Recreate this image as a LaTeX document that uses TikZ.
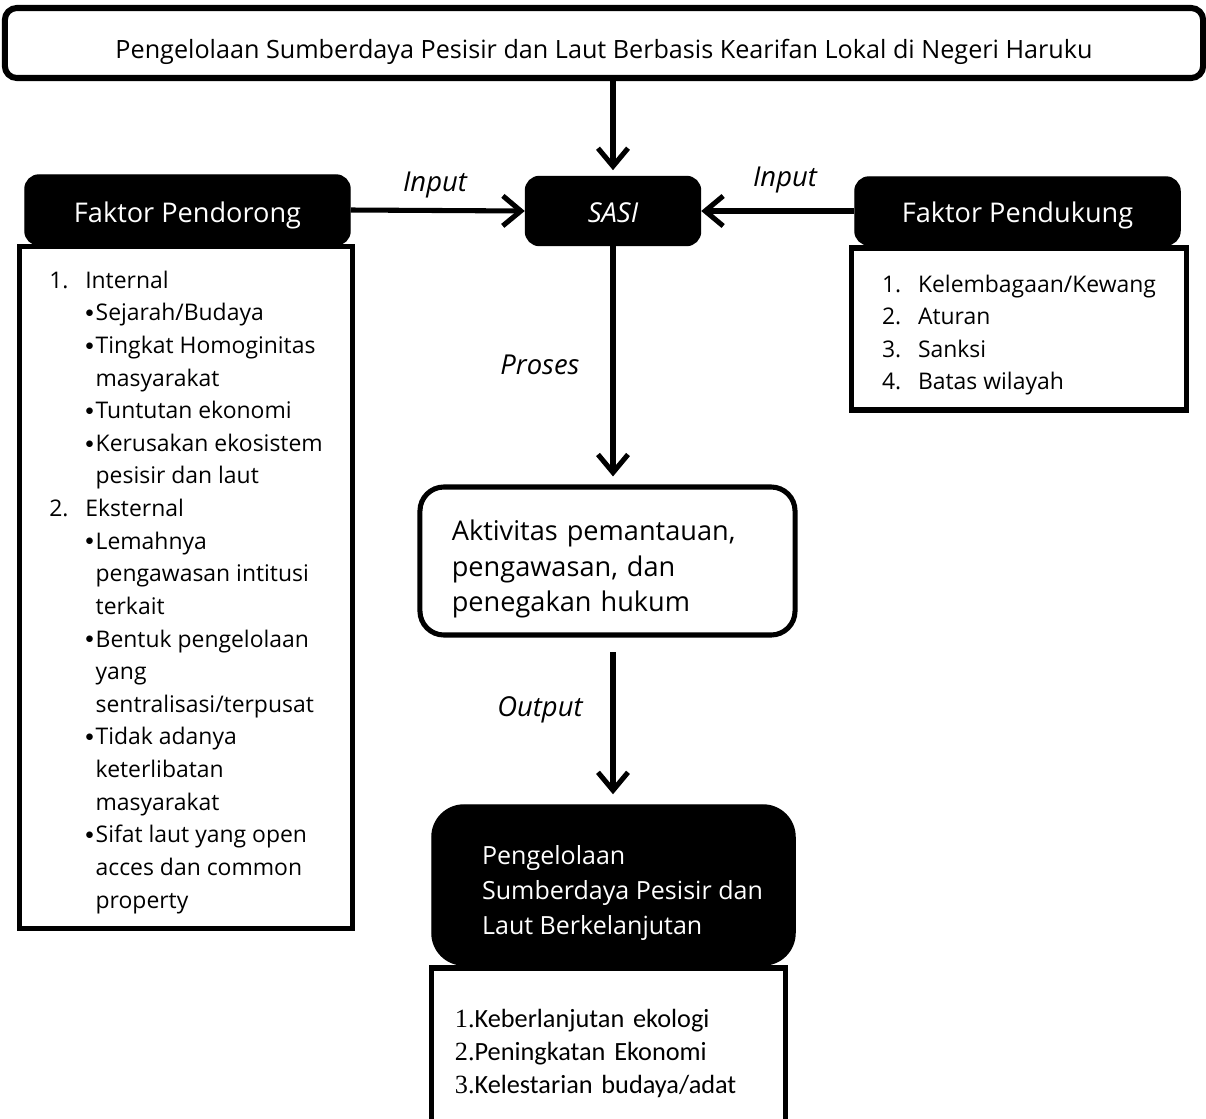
\documentclass[tikz,border=0pt]{standalone}
\usepackage{fontspec}
\setmainfont{Open Sans}
\newfontfamily\numfont{Liberation Serif}
\newfontfamily\narrowfont{Carlito}
\usetikzlibrary{arrows.meta,positioning}

% list helpers
\newcommand{\numitem}[2]{\makebox[25.6pt][l]{#1}#2}
\newcommand{\bulitem}[1]{\hspace*{25.6pt}\makebox[7.4pt][l]{\raisebox{2.3pt}{\scalebox{0.7}{$\bullet$}}}#1}
\newcommand{\bulcont}[1]{\hspace*{33pt}#1}
\newcommand{\lowerby}[1]{\rule{0pt}{#1}}
\newcommand{\indentline}{\hspace*{12.8pt}}

\begin{document}
\begin{tikzpicture}[
    x=0.025cm, y=-0.025cm,
    blackbox/.style={rectangle, rounded corners=0.35cm, draw=black, fill=black, text=white, line width=1pt, align=center, font=\fontsize{19.3}{23}\selectfont},
    listbox/.style={rectangle, draw=black, fill=white, line width=3.6pt, align=left, font=\fontsize{16.3}{23.2}\selectfont},
    roundbox/.style={rectangle, draw=black, fill=white, line width=3.6pt, align=left},
    flowlabel/.style={font=\fontsize{19.5}{23}\selectfont\itshape},
    arrow/.style={-{Straight Barb[length=0.45cm, width=0.75cm]}, line width=3.6pt}
]
\useasboundingbox (0,0) rectangle (1206,1119);

\node[roundbox, rounded corners=0.3cm, line width=4.3pt, minimum width=29.95cm, minimum height=1.75cm, align=center, font=\fontsize{17.9}{20}\selectfont] (title) at (604,43)
    {\lowerby{26pt}Pengelolaan Sumberdaya Pesisir dan Laut Berbasis Kearifan Lokal di Negeri Haruku};

\node[blackbox, minimum width=4.375cm, minimum height=1.725cm, font=\fontsize{19.5}{23}\selectfont\itshape] (sasi) at (613,211) {\lowerby{16pt}SASI};
\node[blackbox, minimum width=8.125cm, minimum height=1.75cm] (pendorong) at (187.5,210) {\lowerby{23pt}Faktor Pendorong};
\node[blackbox, minimum width=8.125cm, minimum height=1.7cm] (pendukung) at (1017.5,211) {\lowerby{20.5pt}Faktor Pendukung};

\node[listbox, minimum width=8.3cm, minimum height=17.025cm] (pendorongList) at (186,587.5) {%
    \lowerby{19pt}\numitem{1.}{Internal}\\
    \bulitem{Sejarah/Budaya}\\
    \bulitem{Tingkat Homoginitas}\\
    \bulcont{masyarakat}\\
    \bulitem{Tuntutan ekonomi}\\
    \bulitem{Kerusakan ekosistem}\\
    \bulcont{pesisir dan laut}\\
    \numitem{2.}{Eksternal}\\
    \bulitem{Lemahnya}\\
    \bulcont{pengawasan intitusi}\\
    \bulcont{terkait}\\
    \bulitem{Bentuk pengelolaan}\\
    \bulcont{yang}\\
    \bulcont{sentralisasi/terpusat}\\
    \bulitem{Tidak adanya}\\
    \bulcont{keterlibatan}\\
    \bulcont{masyarakat}\\
    \bulitem{Sifat laut yang open}\\
    \bulcont{acces dan common}\\
    \bulcont{property}};

\node[listbox, minimum width=8.35cm, minimum height=4.05cm] (pendukungList) at (1019,329) {%
    \lowerby{21pt}\numitem{1.}{Kelembagaan/Kewang}\\
    \numitem{2.}{Aturan}\\
    \numitem{3.}{Sanksi}\\
    \numitem{4.}{Batas wilayah}};

\node[roundbox, rounded corners=0.6cm, minimum width=9.375cm, minimum height=3.7cm, text width=7.78cm, font=\fontsize{19.3}{25.2}\selectfont] (aktivitas) at (607.5,561)
    {\lowerby{26pt}Aktivitas pemantauan,\\ pengawasan, dan\\ penegakan hukum};

\node[blackbox, rounded corners=0.8cm, minimum width=9.075cm, minimum height=4cm, align=left, font=\fontsize{17.8}{24.9}\selectfont] (hasil) at (613.5,885)
    {\lowerby{25pt}\indentline Pengelolaan\\ \indentline Sumberdaya Pesisir dan\\ \indentline Laut Berkelanjutan};

\node[listbox, minimum width=8.825cm, minimum height=3.925cm, text width=7.68cm, font=\narrowfont\fontsize{18.7}{23.5}\selectfont] (hasilList) at (608.5,1046.5) {%
    \lowerby{22.5pt}{\numfont 1.}Keberlanjutan ekologi\\
    {\numfont 2.}Peningkatan Ekonomi\\
    {\numfont 3.}Kelestarian budaya/adat};

% labels
\node[flowlabel] (inputL) at (435,185) {Input};
\node[flowlabel] (inputR) at (785,180) {Input};
\node[flowlabel] (proses) at (540,365) {Proses};
\node[flowlabel] (output) at (540,710) {Output};

% arrows
\draw[arrow, shorten >=4pt] (sasi.north |- title.south) -- (sasi.north);
\draw[arrow] (pendorong.east) -- (sasi.west);
\draw[arrow] (pendukung.west) -- (sasi.west -| sasi.east);
\draw[arrow, shorten >=0.2cm] (sasi.south) -- (sasi.south |- aktivitas.north);
\draw[arrow, shorten <=0.37cm, shorten >=0.25cm] (aktivitas.south -| sasi.south) -- (hasil.north -| sasi.south);
\end{tikzpicture}
\end{document}
